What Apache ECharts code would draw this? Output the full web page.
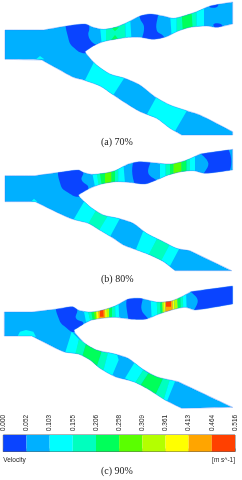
<!DOCTYPE html>
<html><head><meta charset="utf-8">
<style>html,body{margin:0;padding:0;background:#fff}#c{width:242px;height:480px}#c canvas{filter:blur(0.55px)}</style>
<script src="https://cdn.jsdelivr.net/npm/echarts@6/dist/echarts.min.js"></script>
</head><body><div id="c"></div>
<script>
// Colour bands of the legend
const binColors=['#0a44ff','#00b0ff','#00ffff','#00ffbe','#00ff5a','#5aff00','#b4ff00','#ffff00','#ffa500','#ff4000'];
const tickLabels=['0.000','0.052','0.103','0.155','0.206','0.258','0.309','0.361','0.413','0.464','0.516'];
const legendMax=0.516;
const legendBins=[0,1,2,3,4,5,6,7,8,9];
const captions=['(a) 70%','(b) 80%','(c) 90%'];

// Channel outlines (flat x,y lists; sharp corners are listed twice)
const outlineA=[15,90,15,90,130,90,130,90,200,78,255,72,280,82,310,88,345,82,380,68,420,48,450,42,490,48,520,55,550,48,590,35,630,18,698,6,698,6,698,72,698,72,650,82,620,78,570,82,530,95,500,110,460,118,420,112,385,112,345,118,310,125,280,138,255,155,255,155,262,165,290,195,330,222,375,235,420,255,465,290,510,315,560,332,600,345,698,395,698,395,698,405,698,405,545,405,545,405,510,385,470,355,420,335,370,305,340,285,300,258,250,240,220,232,170,205,125,180,125,180,15,178,15,178];
const outlineB=[15,107,15,107,105,107,105,107,178,97,235,90,250,97,275,103,310,100,345,92,385,72,420,65,460,68,510,72,555,62,600,42,600,42,698,28,698,28,698,90,698,90,615,100,580,92,545,95,505,105,470,120,435,132,395,128,350,125,305,132,270,145,235,165,235,165,240,172,270,200,310,225,355,235,400,250,440,280,490,305,530,325,570,332,570,332,695,392,695,392,525,392,525,392,490,365,450,345,410,330,370,315,340,295,295,268,265,250,210,235,105,185,105,185,15,185,15,185];
const outlineC=[13,96,13,96,95,96,95,96,170,87,218,80,235,90,265,96,300,92,345,78,385,57,420,55,470,66,510,64,545,50,572,35,572,35,698,18,698,18,698,72,698,72,585,90,555,82,515,90,475,103,440,117,395,118,345,112,305,115,270,122,222,150,222,150,225,158,255,190,290,210,345,222,385,235,425,265,470,290,535,305,535,305,698,382,698,382,545,385,545,385,495,360,440,325,400,305,345,290,300,265,270,240,235,222,190,215,95,168,95,168,13,168,13,168];

// Contour patches: [band, flat x,y list]
const bandsA=[
[0,[203,60,262,55,268,85,265,105,275,125,298,142,255,160,220,142,205,115]],
[2,[298,60,318,60,318,140,306,140]],[3,[318,60,375,60,378,130,318,130]],
[4,[333,82,357,82,345,94]],[4,[333,120,357,120,345,105]],
[2,[375,50,390,50,395,125,378,125]],
[0,[420,30,470,30,470,90,490,108,500,130,430,130,432,80,420,55]],
[2,[510,40,530,40,530,100,515,110]],[3,[530,40,590,30,590,90,530,100]],[4,[545,40,575,40,578,85,548,90]],
[2,[590,20,612,20,612,90,590,90]],
[0,[628,20,640,10,655,10,652,20,640,23]],[0,[640,75,652,70,668,78,655,90]],
[2,[290,170,385,215,330,300,245,260]],[2,[482,268,572,313,520,402,435,353]],
[2,[108,178,120,168,133,178]]];

const bandsB=[
[0,[180,85,240,78,250,97,245,120,265,143,240,170,200,155,182,135]],
[2,[275,90,290,90,298,140,285,140]],[3,[288,90,300,90,308,135,296,135]],[4,[298,90,315,90,315,135,305,135]],[5,[315,90,335,90,335,135,315,135]],[4,[335,85,345,85,345,130,335,130]],[3,[345,80,355,80,355,130,345,130]],[2,[355,75,370,70,375,130,355,130]],
[0,[405,55,450,55,445,100,470,125,435,140,405,135]],
[2,[480,60,497,60,497,115,480,120]],[3,[497,60,510,60,510,110,497,115]],[4,[510,60,520,60,520,105,510,110]],[5,[520,60,545,55,545,100,520,105]],[4,[545,50,560,50,560,100,545,100]],[3,[560,50,570,50,570,100,560,100]],[2,[570,45,585,40,585,100,570,100]],
[0,[600,30,675,15,685,100,610,110,625,70]],
[2,[255,180,292,205,262,260,220,240]],[3,[292,205,325,225,298,275,262,255]],[2,[325,225,360,235,330,290,298,270]],
[2,[432,268,472,295,445,350,405,335]],[3,[472,295,510,312,485,365,445,345]],[2,[510,312,540,322,510,378,485,360]],
[2,[92,187,102,176,113,187]]];

const bandsC=[
[0,[172,75,225,70,232,90,228,115,250,130,225,156,195,140,178,120]],
[2,[250,85,262,85,272,125,258,125]],[3,[262,85,272,85,280,120,270,120]],[4,[272,85,280,85,286,120,278,120]],[5,[280,85,288,85,292,120,285,120]],[7,[288,85,295,85,298,120,290,120]],[8,[295,85,315,85,318,120,296,120]],[9,[300,90,310,90,311,110,300,110]],[7,[315,85,320,85,322,120,316,120]],[6,[320,80,328,78,328,120,320,120]],[4,[328,75,336,72,336,120,328,120]],[3,[336,70,345,68,347,120,336,120]],[2,[345,65,355,60,358,120,347,120]],
[0,[385,45,425,45,425,90,445,122,395,125,385,118]],
[2,[452,55,470,55,472,110,455,115]],[3,[470,55,480,55,482,105,472,108]],[4,[480,55,486,55,488,100,482,105]],[6,[486,55,491,55,493,100,488,100]],[7,[491,55,495,55,497,100,493,100]],[8,[495,55,518,55,518,100,497,100]],[9,[498,58,513,58,513,80,498,80]],[7,[518,50,522,50,524,95,518,95]],[6,[522,50,532,50,534,95,524,95]],[4,[532,45,541,45,543,90,534,90]],[3,[541,40,548,40,550,90,543,90]],[2,[548,35,558,30,560,90,550,90]],
[0,[572,28,685,8,698,80,585,98,593,60]],
[2,[215,155,237,178,228,225,195,220]],[3,[237,178,258,192,245,235,225,224]],[4,[258,192,305,215,290,262,245,235]],[3,[305,215,325,218,310,272,290,262]],[2,[325,215,350,220,356,240,335,290,310,272]],
[2,[405,245,430,270,405,310,375,295]],[3,[430,270,445,280,420,318,405,308]],[4,[445,280,490,295,465,348,420,318]],[3,[490,295,510,300,490,362,465,348]],[2,[510,298,526,302,500,366,490,362]],
[2,[52,170,60,155,78,150,100,155,108,170]]];

const panelOffsets=[0,420,840];

function pairs(flat,api,dy){const out=[];for(let i=0;i<flat.length;i+=2){out.push(api.coord([flat[i],flat[i+1]+dy]));}return out;}

function panelSeries(outline,bands,dy){
  const items=[[1,outline]].concat(bands);
  const data=items.map((b,i)=>[i,b[0]]);
  data.push([items.length,-1]);
  return {type:'custom',coordinateSystem:'cartesian2d',xAxisIndex:0,yAxisIndex:0,silent:true,animation:false,clip:false,
    data:data,encode:{x:0,y:1},
    renderItem(params,api){
      const i=params.dataIndex;
      const clip=pairs(outline,api,dy);
      if(i===items.length){
        return {type:'polygon',shape:{points:clip,smooth:0.25},style:{fill:'none',stroke:'rgba(50,120,245,0.75)',lineWidth:0.5}};
      }
      const b=items[i];
      return {type:'polygon',shape:{points:pairs(b[1],api,dy),smooth:i===0?0.25:(b[0]===0?0.45:0)},style:{fill:binColors[b[0]],stroke:null},
        clipPath:{type:'polygon',shape:{points:clip,smooth:0.25}}};
    }};
}

const legendSeries={type:'custom',coordinateSystem:'cartesian2d',xAxisIndex:1,yAxisIndex:1,silent:true,animation:false,
  data:legendBins.map(k=>[k]),encode:{x:0},
  renderItem(params,api){
    const k=api.value(0),w=legendMax/legendBins.length;
    const a=api.coord([k*w,1]),b=api.coord([(k+1)*w,0]);
    return {type:'rect',shape:{x:a[0],y:a[1],width:b[0]-a[0],height:b[1]-a[1]},style:{fill:binColors[k]}};
  }};

const serif='"Liberation Serif","Times New Roman",serif', sans='"Liberation Sans",Arial,sans-serif';
const chart=echarts.init(document.getElementById('c'),null,{renderer:'canvas',width:242,height:480});
chart.setOption({
  animation:false,backgroundColor:'#fff',
  grid:[{left:0,top:0,width:242,height:480},{show:true,borderColor:'#666',borderWidth:1,left:3.3,top:435,width:231.7,height:16.5}],
  xAxis:[{type:'value',gridIndex:0,min:0,max:726,show:false},
    {type:'value',gridIndex:1,min:0,max:legendMax,interval:legendMax/10,position:'top',splitLine:{show:false},
     axisLine:{show:true,lineStyle:{color:'#555',width:0.5}},axisTick:{show:true,length:3,inside:false,lineStyle:{color:'#555',width:0.5}},
     axisLabel:{rotate:90,margin:4,fontSize:6.4,color:'#222',fontFamily:sans,showMinLabel:true,showMaxLabel:true,
       formatter:(v,i)=>tickLabels[Math.round(v/(legendMax/10))]}}],
  yAxis:[{type:'value',gridIndex:0,min:0,max:1440,inverse:true,show:false},
    {type:'value',gridIndex:1,min:0,max:1,show:false}],
  series:[panelSeries(outlineA,bandsA,panelOffsets[0]),panelSeries(outlineB,bandsB,panelOffsets[1]),panelSeries(outlineC,bandsC,panelOffsets[2]),legendSeries],
  graphic:[
    {type:'text',left:101,top:137,style:{text:captions[0],font:'10px '+serif,fill:'#222'}},
    {type:'text',left:101,top:274,style:{text:captions[1],font:'10px '+serif,fill:'#222'}},
    {type:'text',left:101,top:466,style:{text:captions[2],font:'10px '+serif,fill:'#222'}},
    {type:'text',left:3.3,top:456.5,style:{text:'Velocity',font:'6.5px '+sans,fill:'#222'}},
    {type:'text',right:7,top:456.5,style:{text:'[m s^-1]',font:'6.5px '+sans,fill:'#222'}}
  ]
});
</script></body></html>
